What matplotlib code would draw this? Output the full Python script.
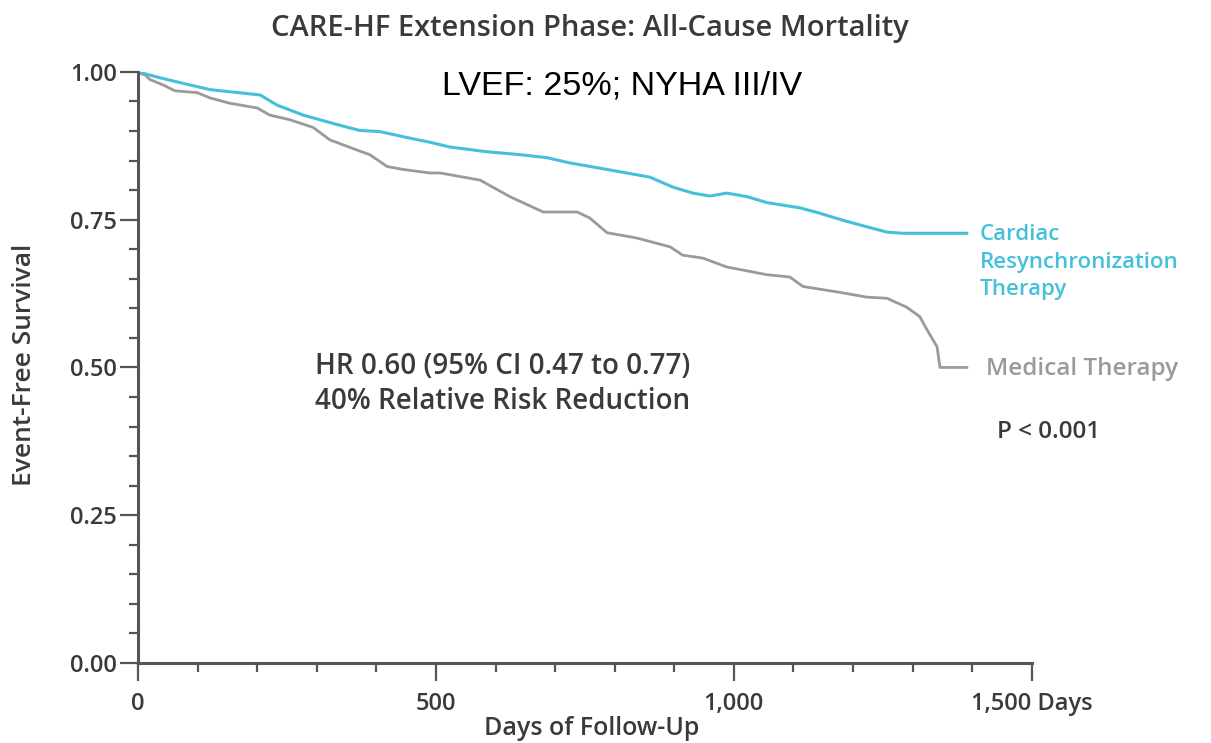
import matplotlib
matplotlib.use("Agg")
import matplotlib.pyplot as plt
from matplotlib.ticker import MultipleLocator, FixedLocator

matplotlib.rcParams['font.family'] = ['Open Sans', 'DejaVu Sans']

# Kaplan-Meier curves (days, event-free survival)
crt_days = [0, 37, 70, 121, 205, 233, 277, 334, 372, 406, 456, 490, 523, 585, 641, 686,
            725, 787, 859, 898, 931, 960, 988, 1022, 1055, 1111, 1144, 1183, 1223, 1257,
            1284, 1391]
crt_surv = [1.0, 0.990, 0.982, 0.970, 0.961, 0.944, 0.927, 0.911, 0.901, 0.899, 0.888, 0.881,
            0.873, 0.865, 0.860, 0.855, 0.846, 0.835, 0.822, 0.805, 0.795, 0.790, 0.795,
            0.789, 0.779, 0.770, 0.761, 0.749, 0.738, 0.729, 0.727, 0.727]

med_days = [0, 12, 20, 42, 62, 99, 121, 154, 200, 221, 255, 294, 322, 367, 389, 418, 445,
            490, 507, 574, 624, 680, 737, 758, 787, 837, 893, 914, 948, 988, 1055, 1094,
            1116, 1178, 1223, 1257, 1290, 1312, 1324, 1341, 1346, 1391]
med_surv = [0.998, 0.995, 0.987, 0.978, 0.968, 0.965, 0.956, 0.947, 0.939, 0.927, 0.919,
            0.906, 0.885, 0.868, 0.860, 0.840, 0.835, 0.829, 0.829, 0.817, 0.789, 0.763,
            0.763, 0.753, 0.728, 0.719, 0.704, 0.690, 0.685, 0.670, 0.657, 0.653, 0.637,
            0.627, 0.619, 0.617, 0.602, 0.586, 0.564, 0.535, 0.500, 0.500]

x_ticks = [0, 500, 1000, 1500]
x_labels = ["0", "500", "1,000", "1,500 Days"]
y_ticks = [0, 0.25, 0.5, 0.75, 1.0]
y_labels = ["0.00", "0.25", "0.50", "0.75", "1.00"]

CYAN = "#45C0DA"
GRAY = "#9A9A9A"
DARK = "#3A3A3A"
AXIS = "#555555"

fg = plt.figure(figsize=(12.11, 7.43), dpi=100)
ax = fg.add_axes([0.114, 0.1077, 0.738, 0.7955])

ax.plot(med_days, med_surv, color=GRAY, linewidth=2.0)
ax.plot(crt_days, crt_surv, color=CYAN, linewidth=2.2)

ax.set_xlim(0, 1500)
ax.set_ylim(0, 1)
for s in ['top', 'right']:
    ax.spines[s].set_visible(False)
for s in ['left', 'bottom']:
    ax.spines[s].set_color(AXIS)
    ax.spines[s].set_linewidth(2.2)

ax.xaxis.set_major_locator(FixedLocator(x_ticks))
ax.set_xticklabels(x_labels)
ax.xaxis.set_minor_locator(MultipleLocator(100))
ax.yaxis.set_major_locator(FixedLocator(y_ticks))
ax.set_yticklabels(y_labels)
ax.yaxis.set_minor_locator(MultipleLocator(0.05))

ax.tick_params(which='major', direction='out', length=13, width=1.6, color=AXIS,
               labelsize=17, labelcolor=DARK)
ax.tick_params(which='minor', direction='out', length=6.5, width=1.6, color=AXIS)
ax.tick_params(axis='x', which='major', pad=8)
ax.tick_params(axis='y', which='major', pad=2)
for t in ax.get_xticklabels() + ax.get_yticklabels():
    t.set_fontweight('semibold')

fg.text(0.487, 0.962, "CARE-HF Extension Phase: All-Cause Mortality", ha='center', va='center',
        fontsize=21, fontweight='semibold', color=DARK)
fg.text(0.514, 0.884, "LVEF: 25%; NYHA III/IV", ha='center', va='center',
        fontsize=24.5, color='black', family=['Liberation Sans', 'DejaVu Sans'])
fg.text(0.489, 0.019, "Days of Follow-Up", ha='center', va='center',
        fontsize=18, fontweight='semibold', color=DARK)
fg.text(0.02, 0.509, "Event-Free Survival", ha='center', va='center', rotation=90,
        fontsize=19, fontweight='semibold', color=DARK)

fg.text(0.809, 0.647, "Cardiac\nResynchronization\nTherapy", ha='left', va='center',
        fontsize=16, fontweight='semibold', color=CYAN, linespacing=1.42)
fg.text(0.814, 0.504, "Medical Therapy", ha='left', va='center',
        fontsize=17.5, fontweight='semibold', color=GRAY)
fg.text(0.823, 0.418, "P < 0.001", ha='left', va='center',
        fontsize=17.5, fontweight='semibold', color=DARK)
fg.text(0.260, 0.483, "HR 0.60 (95% CI 0.47 to 0.77)\n40% Relative Risk Reduction",
        ha='left', va='center', fontsize=20, fontweight='semibold', color=DARK,
        linespacing=1.3)

fg.savefig("out.png", dpi=100)
